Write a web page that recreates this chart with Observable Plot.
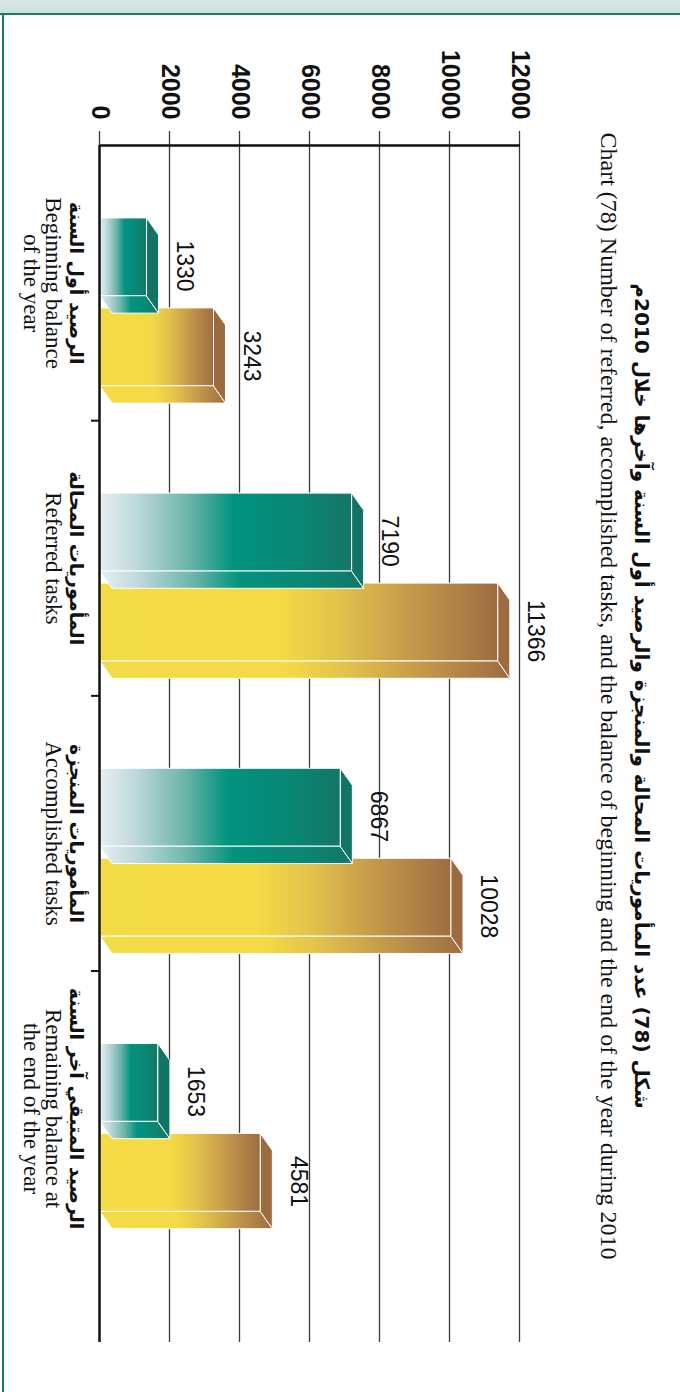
<!DOCTYPE html>
<html><head><meta charset="utf-8">
<script src="https://cdn.jsdelivr.net/npm/d3@7"></script>
<script src="https://cdn.jsdelivr.net/npm/@observablehq/plot@0.6"></script>
<style>
html,body{margin:0;padding:0;background:#fff;width:680px;height:1392px;overflow:hidden;}
#band{position:absolute;left:0;top:0;width:680px;height:13px;background:linear-gradient(#d8e8e4,#cde0db);border-bottom:2px solid #1c7866;}
#lborder{position:absolute;left:2px;top:15px;width:2px;height:1377px;background:#1c7866;}
#rot{position:absolute;left:0;top:0;width:1392px;height:680px;transform-origin:0 0;transform:translate(680px,0) rotate(90deg);}
.t-ar{position:absolute;left:0;width:1392px;top:26px;line-height:24px;text-align:center;font-weight:bold;font-size:20px;font-family:"DejaVu Sans",sans-serif;direction:rtl;color:#111;}
.t-en{position:absolute;left:0;width:1392px;top:58px;line-height:26px;text-align:center;font-size:24px;font-family:"Liberation Serif",serif;color:#111;}
#chart{position:absolute;left:0;top:95px;}
</style></head><body>
<div id="band"></div><div id="lborder"></div>
<div id="rot"><div class="t-ar" id="tar"></div><div class="t-en" id="ten"></div><div id="chart"></div></div>
<script>
// ---- data ----
const titleAr = "شكل (78) عدد المأموريات المحالة والمنجزة والرصيد أول السنة وآخرها خلال 2010م";
const titleEn = "Chart (78) Number of referred, accomplished tasks, and the balance of beginning and the end of the year during 2010";
const categoriesAr = ["الرصيد أول السنة", "المأموريات المحالة", "المأموريات المنجزة", "الرصيد المتبقي آخر السنة"];
const categoriesEn = ["Beginning balance\nof the year", "Referred tasks", "Accomplished tasks", "Remaining balance at\nthe end of the year"];
const tealValues = [1330, 7190, 6867, 1653];
const goldValues = [3243, 11366, 10028, 4581];
const yTicks = [0, 2000, 4000, 6000, 8000, 10000, 12000];

document.getElementById("tar").textContent = titleAr;
document.getElementById("ten").textContent = titleEn;

// ---- geometry (in scale units) ----
const OFF = {teal: 0.265, gold: 0.592};
const BW = 0.284, DX = 0.062, DV = 343, XMAX = 4.35;

function bars(values, s) {
  return values.map((v, i) => ({id: s + i, i, s, v, x1: i + OFF[s], x2: i + OFF[s] + BW}));
}
const tealBars = bars(tealValues, "teal");
const goldBars = bars(goldValues, "gold");
const sideFaces = b => b.flatMap(d => [
  {id: d.id, x: d.x2, y1: 0, y2: d.v},
  {id: d.id, x: d.x2 + DX, y1: DV, y2: d.v + DV}
]);
const topFaces = b => b.flatMap(d => [
  {id: d.id, x: d.x1, y1: d.v, y2: d.v},
  {id: d.id, x: d.x1 + DX, y1: d.v, y2: d.v + DV},
  {id: d.id, x: d.x2, y1: d.v, y2: d.v + DV},
  {id: d.id, x: d.x2 + DX, y1: d.v + DV, y2: d.v + DV}
]);
const outlines = b => b.flatMap(d => [
  {id: d.id, x: d.x1, y1: 0, y2: d.v},
  {id: d.id, x: d.x1 + DX, y1: 0, y2: d.v + DV},
  {id: d.id, x: d.x2, y1: 0, y2: d.v + DV},
  {id: d.id, x: d.x2 + DX, y1: DV, y2: d.v + DV}
]);
const allBars = tealBars.concat(goldBars);
const catRows = categoriesAr.map((a, i) => ({x: i + 0.5, ar: a, en: categoriesEn[i]}));

const chart = Plot.plot({
  width: 1392, height: 585,
  marginLeft: 145, marginRight: 50, marginTop: 65, marginBottom: 100,
  x: {type: "linear", domain: [0, XMAX], label: null},
  y: {domain: [0, 12000], label: null},
  style: {fontFamily: "'Liberation Sans', Arial, sans-serif", color: "#111", background: "transparent", overflow: "visible"},
  marks: [
    Plot.ruleY(yTicks.filter(d => d > 0), {x1: 0, x2: XMAX, stroke: "#3a3a3a", strokeWidth: 1.3}),
    Plot.axisY({ticks: yTicks, tickSize: 14, tickPadding: 12, fontSize: 25, fontWeight: "bold", stroke: "#3a3a3a", strokeWidth: 1.3, tickFormat: d3.format("d"), label: null}),
    Plot.axisX({ticks: [1, 2, 3], tickSize: 9, tickFormat: () => "", stroke: "#111", strokeWidth: 2, label: null}),
    // soft shadow following the 3D outline
    Plot.areaY(outlines(allBars), {x: "x", y1: "y1", y2: "y2", z: "id", fill: "#333", fillOpacity: 0.5, ariaLabel: "shadow"}),
    // front faces
    Plot.rectY(tealBars, {x1: "x1", x2: "x2", y1: 0, y2: "v", fill: "url(#gTeal)", stroke: "white", strokeWidth: 1}),
    Plot.rectY(goldBars, {x1: "x1", x2: "x2", y1: 0, y2: "v", fill: "url(#gGold)", stroke: "white", strokeWidth: 1}),
    // side faces
    Plot.areaY(sideFaces(tealBars), {x: "x", y1: "y1", y2: "y2", z: "id", fill: "url(#gTeal)", stroke: "white", strokeWidth: 1}),
    Plot.areaY(sideFaces(goldBars), {x: "x", y1: "y1", y2: "y2", z: "id", fill: "url(#gGold)", stroke: "white", strokeWidth: 1}),
    // top faces
    Plot.areaY(topFaces(tealBars), {x: "x", y1: "y1", y2: "y2", z: "id", fill: "#127464", stroke: "white", strokeWidth: 1}),
    Plot.areaY(topFaces(goldBars), {x: "x", y1: "y1", y2: "y2", z: "id", fill: "#9c6b3f", stroke: "white", strokeWidth: 1}),
    // axis lines
    Plot.ruleY([0], {x1: 0, x2: XMAX, stroke: "#111", strokeWidth: 2.5}),
    Plot.ruleX([0], {y1: 0, y2: 12000, stroke: "#111", strokeWidth: 2.5}),
    // value labels
    Plot.text(allBars, {x: d => d.x1 + (BW + DX) / 2, y: "v", text: d => String(d.v), dy: -31, lineAnchor: "bottom", fontSize: 23, fill: "#111"}),
    // category labels
    Plot.text(catRows, {x: "x", y: 0, text: "ar", dy: 23, lineAnchor: "middle", fontSize: 19, fontWeight: "bold", fontFamily: "'DejaVu Sans', sans-serif", fill: "#111"}),
    Plot.text(catRows, {x: "x", y: 0, text: "en", dy: 38, lineAnchor: "top", lineHeight: 0.95, fontSize: 23, fontFamily: "'Liberation Serif', serif", fill: "#111"})
  ]
});

// gradient and filter definitions
const NS = "http://www.w3.org/2000/svg";
const defs = document.createElementNS(NS, "defs");
function grad(id, stops) {
  const g = document.createElementNS(NS, "linearGradient");
  g.setAttribute("id", id);
  g.setAttribute("x1", "0"); g.setAttribute("y1", "1"); g.setAttribute("x2", "0"); g.setAttribute("y2", "0");
  for (const [o, c] of stops) {
    const s = document.createElementNS(NS, "stop");
    s.setAttribute("offset", o); s.setAttribute("stop-color", c);
    g.appendChild(s);
  }
  defs.appendChild(g);
}
grad("gTeal", [[0, "#e6eff4"], [0.15, "#bcd8da"], [0.35, "#6db5a9"], [0.53, "#00937f"], [0.8, "#0a8674"], [1, "#147666"]]);
grad("gGold", [[0, "#f4dc46"], [0.45, "#f4da45"], [0.6, "#e3c24b"], [0.8, "#c0964a"], [1, "#9e6c41"]]);
const f = document.createElementNS(NS, "filter");
f.setAttribute("id", "blurShadow");
f.setAttribute("filterUnits", "userSpaceOnUse");
f.setAttribute("x", "0"); f.setAttribute("y", "0"); f.setAttribute("width", "1392"); f.setAttribute("height", "585");
const fb = document.createElementNS(NS, "feGaussianBlur");
fb.setAttribute("stdDeviation", "4");
f.appendChild(fb);
defs.appendChild(f);
chart.insertBefore(defs, chart.firstChild);
const sh = chart.querySelector('g[aria-label="shadow"]');
if (sh) sh.setAttribute("filter", "url(#blurShadow)");

document.getElementById("chart").appendChild(chart);
</script>
</body></html>
